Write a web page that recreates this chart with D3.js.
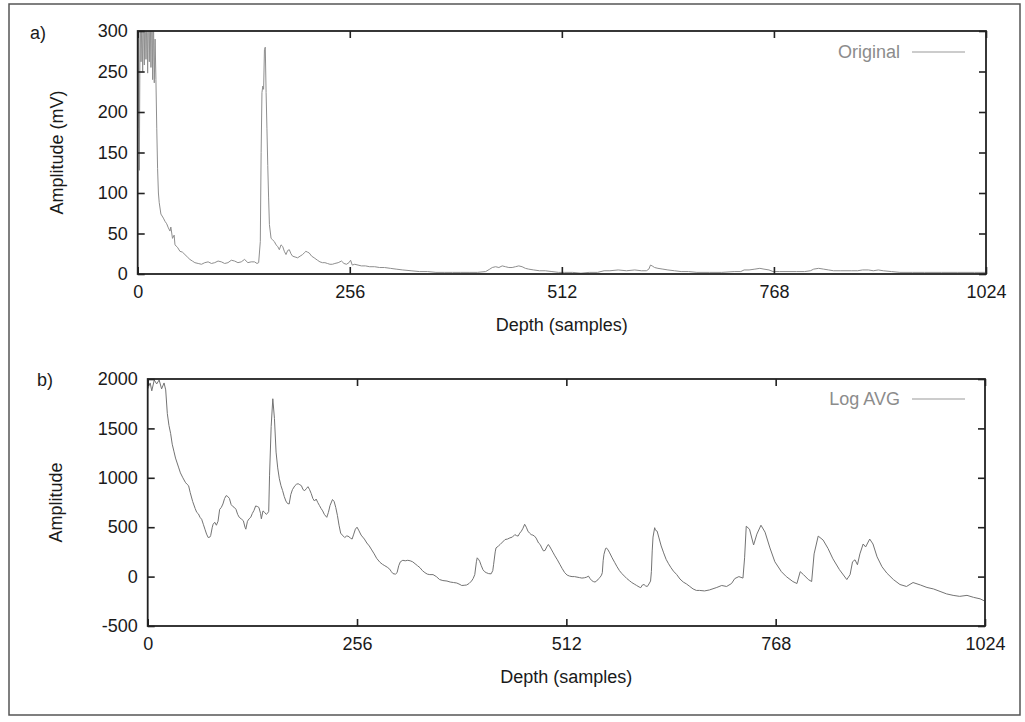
<!DOCTYPE html>
<html>
<head>
<meta charset="utf-8">
<script src="https://cdn.jsdelivr.net/npm/d3@7"></script>
<style>
  html, body { margin: 0; padding: 0; background: #fff; }
  svg { display: block; }
  text { font-family: "Liberation Sans", Arial, Helvetica, sans-serif; }
</style>
</head>
<body>
<svg id="chart" width="1025" height="722"></svg>
<script>
// ---------------- data ----------------
const xTicks = [0, 256, 512, 768, 1024];
const yTicksA = [0, 50, 100, 150, 200, 250, 300];
const yTicksB = [-500, 0, 500, 1000, 1500, 2000];
const panelLabels = ["a)", "b)"];
const seriesNames = ["Original", "Log AVG"];
const xTitle = "Depth (samples)";
const yTitles = ["Amplitude (mV)", "Amplitude"];

const originalDepth = [0,1,2,3,4,5,6,7,8,9,10,11,12,13,14,15,16,17,18,19,20,21,22,23,24,25,26,28,31,33,35,37,39,40,42,44,45,48,51,54,57,60,63,66,69,73,77,81,85,89,93,97,101,105,109,113,117,121,125,129,133,137,141,144,146,148,149,150,151,152,153,154,155,156,157,158,159,161,163,165,167,169,171,173,175,177,179,181,183,185,187,190,193,196,199,201,203,205,207,210,213,217,220,223,226,229,232,235,238,242,246,249,252,255,257,259,262,266,270,275,280,286,292,298,305,312,320,330,340,350,360,370,380,390,400,410,420,425,428,432,436,440,444,448,452,456,460,464,468,472,478,485,492,500,508,515,525,535,545,555,563,570,580,590,600,608,614,617,619,621,624,628,634,640,648,656,665,675,690,705,720,728,732,738,745,751,756,762,767,775,785,795,805,812,816,822,828,834,840,848,855,862,869,875,882,888,894,900,910,920,935,950,970,990,1010,1023];
const originalAmp = [180,320,128,340,262,315,250,335,258,350,265,325,248,345,262,330,255,360,240,320,236,290,240,180,130,100,88,74,69,65,62,57,53,58,44,48,36,33,28,27,24,21,18,16,14,13,12,14,15,13,14,16,15,13,14,17,16,14,15,18,14,15,15,13,14,40,150,224,232,228,277,280,224,180,134,95,61,44,42,40,36,34,30,36,34,28,24,29,30,25,22,21,20,22,24,26,28,27,26,22,20,17,15,14,14,13,12,12,13,14,16,13,12,14,17,11,12,11,10,10,9,9,8,8,7,6,5,4,3,3,2,2,2,2,2,2,3,6,8,9,8,10,9,8,8,9,10,9,7,6,5,4,4,3,2,2,2,1,2,2,4,4,5,4,5,4,4,6,11,10,8,7,6,5,4,3,3,2,2,2,3,3,5,5,6,7,6,5,3,3,3,3,3,4,6,7,6,5,4,4,4,4,4,5,5,4,5,4,3,2,2,2,2,2,2,2];

const logDepth = [0,3,5,8,11,14,17,20,22,24,26,28,30,32,34,36,38,40,43,46,48,50,52,55,58,60,62,64,66,68,70,72,74,76,77,79,80,82,84,86,88,90,92,94,96,98,100,102,104,106,108,110,112,115,117,119,120,122,124,126,128,130,132,134,136,138,139,141,143,145,147,148,149,151,153,155,157,159,161,163,165,167,169,171,173,175,177,180,182,184,186,188,190,192,194,196,198,200,202,204,206,208,210,212,214,216,219,221,223,226,228,230,232,234,236,238,241,243,245,248,250,252,254,256,258,261,263,265,268,271,274,277,280,284,287,290,293,296,298,300,303,305,307,309,312,315,318,321,324,327,330,333,336,339,342,345,349,353,357,361,366,370,374,378,382,384,387,390,393,396,398,400,402,403,405,406,408,410,412,414,417,420,422,423,425,426,429,431,434,437,440,443,446,449,451,453,455,457,459,461,463,465,467,469,471,473,475,478,480,482,484,486,488,490,492,494,496,498,501,504,507,510,513,516,519,522,525,528,531,534,537,539,541,543,545,547,549,551,553,555,556,557,558,560,561,563,565,568,571,574,577,580,583,586,589,592,595,598,601,603,605,607,609,611,613,615,616,617,618,620,621,623,625,628,631,634,637,640,643,647,651,655,659,663,667,671,675,681,687,696,702,708,714,718,723,728,730,732,736,741,745,750,755,761,767,775,781,789,794,798,802,808,812,815,820,826,832,838,846,855,859,862,865,868,871,875,878,883,887,892,898,904,912,920,928,936,945,953,961,969,977,985,993,1002,1010,1018,1023];
const logAmp = [1900,1960,1880,1990,1950,1990,1900,1960,1890,1650,1530,1450,1340,1270,1200,1150,1100,1050,1000,955,935,920,850,760,690,650,635,600,580,530,480,430,395,400,415,500,530,550,520,560,680,700,735,790,820,810,790,730,710,700,680,630,600,580,565,500,480,560,585,600,640,670,715,710,700,640,585,665,650,630,645,660,1020,1520,1800,1600,1260,1100,990,920,870,810,765,740,735,830,880,920,935,940,930,920,880,870,890,910,880,840,790,765,785,750,720,690,665,630,600,650,720,780,760,700,620,520,440,420,395,410,410,390,380,430,480,500,470,420,400,380,340,310,270,230,185,145,125,110,95,75,50,30,25,40,110,150,165,160,165,160,150,130,110,90,60,40,25,20,20,0,-30,-40,-45,-55,-60,-65,-80,-90,-88,-85,-70,-45,-20,20,150,190,170,155,110,70,50,40,30,28,60,120,250,290,310,325,350,375,380,392,400,425,415,410,440,460,490,530,500,460,440,425,420,410,390,340,325,290,260,265,300,325,300,270,240,210,170,125,80,40,15,5,0,0,-5,-10,-15,-12,-5,5,-20,-40,-50,-55,-45,-25,-10,15,40,160,225,285,290,270,240,190,145,100,60,30,5,-20,-40,-60,-75,-90,-105,-112,-85,-80,-95,-100,-75,-45,50,260,400,495,470,460,400,310,240,175,130,90,55,20,-25,-55,-75,-100,-125,-140,-140,-145,-135,-110,-90,-100,-70,-20,0,-15,190,510,480,320,430,520,450,290,150,50,0,-50,-70,50,20,-30,-50,230,410,370,285,180,70,-30,20,150,170,120,230,330,300,380,330,200,100,35,-30,-80,-100,-60,-85,-110,-125,-150,-175,-190,-200,-190,-210,-225,-245];

// ---------------- layout ----------------
const svg = d3.select("#chart");
const FS = 18;
const fmt = d => String(d); // plain hyphen-minus as in the reference

svg.append("rect").attr("x", 0).attr("y", 0).attr("width", 1025).attr("height", 722).attr("fill", "#fff");
svg.append("rect")
  .attr("x", 9).attr("y", 4).attr("width", 1011).attr("height", 711)
  .attr("fill", "none").attr("stroke", "#555").attr("stroke-width", 1.5);

const panels = [
  { left: 137.7, right: 986, top: 31, bottom: 274, domainY: [0, 300], ticksY: yTicksA,
    xs: originalDepth, ys: originalAmp, label: panelLabels[0], labelX: 38, labelY: 39,
    name: seriesNames[0], yTitle: yTitles[0], yTitleX: 57, legendY: 52, lineColor: "#8e8e8e", lineW: 1 },
  { left: 147.7, right: 985, top: 379, bottom: 626, domainY: [-500, 2000], ticksY: yTicksB,
    xs: logDepth, ys: logAmp, label: panelLabels[1], labelX: 45, labelY: 386,
    name: seriesNames[1], yTitle: yTitles[1], yTitleX: 56, legendY: 399, lineColor: "#737373", lineW: 1 }
];

panels.forEach((p, i) => {
  const x = d3.scaleLinear().domain([0, 1024]).range([p.left, p.right]);
  const y = d3.scaleLinear().domain(p.domainY).range([p.bottom, p.top]);
  const g = svg.append("g");

  const clipId = "clip" + i;
  svg.append("defs").append("clipPath").attr("id", clipId)
    .append("rect").attr("x", p.left).attr("y", p.top)
    .attr("width", p.right - p.left).attr("height", p.bottom - p.top);

  const pts = p.xs.map((d, k) => [d, p.ys[k]]);
  const line = d3.line().x(d => x(d[0])).y(d => y(d[1]));
  g.append("path").datum(pts)
    .attr("clip-path", `url(#${clipId})`)
    .attr("d", line)
    .attr("fill", "none")
    .attr("stroke", p.lineColor)
    .attr("stroke-width", p.lineW)
    .attr("stroke-linejoin", "round");

  const styleAxis = sel => {
    sel.select(".domain").remove();
    sel.selectAll(".tick line").attr("stroke", "#222").attr("stroke-width", 1.6);
    sel.selectAll("text").attr("fill", "#1a1a1a").style("font-size", FS + "px")
      .style("font-family", '"Liberation Sans", Arial, sans-serif');
  };

  g.append("g").attr("transform", `translate(0,${p.bottom})`)
    .call(d3.axisBottom(x).tickValues(xTicks).tickSize(-7).tickPadding(11).tickFormat(fmt))
    .call(styleAxis);
  g.append("g").attr("transform", `translate(0,${p.top})`)
    .call(d3.axisTop(x).tickValues(xTicks).tickSize(-7).tickFormat(""))
    .call(styleAxis);
  g.append("g").attr("transform", `translate(${p.left},0)`)
    .call(d3.axisLeft(y).tickValues(p.ticksY).tickSize(-7).tickPadding(10).tickFormat(fmt))
    .call(styleAxis);
  g.append("g").attr("transform", `translate(${p.right},0)`)
    .call(d3.axisRight(y).tickValues(p.ticksY).tickSize(-7).tickFormat(""))
    .call(styleAxis);

  g.append("rect").attr("x", p.left).attr("y", p.top)
    .attr("width", p.right - p.left).attr("height", p.bottom - p.top)
    .attr("fill", "none").attr("stroke", "#222").attr("stroke-width", 1.8);

  g.append("text").attr("x", (p.left + p.right) / 2).attr("y", p.bottom + 57)
    .attr("text-anchor", "middle").attr("fill", "#1a1a1a").style("font-size", FS + "px")
    .text(xTitle);
  g.append("text")
    .attr("transform", `translate(${p.yTitleX + 6},${(p.top + p.bottom) / 2}) rotate(-90)`)
    .attr("text-anchor", "middle").attr("fill", "#1a1a1a").style("font-size", FS + "px")
    .text(p.yTitle);
  g.append("text").attr("x", p.labelX).attr("y", p.labelY)
    .attr("text-anchor", "middle").attr("fill", "#1a1a1a").style("font-size", FS + "px")
    .text(p.label);

  g.append("text").attr("x", 900).attr("y", p.legendY + 6)
    .attr("text-anchor", "end").attr("fill", "#8c8c8c").style("font-size", FS + "px")
    .text(p.name);
  g.append("line").attr("x1", 912).attr("x2", 965)
    .attr("y1", p.legendY).attr("y2", p.legendY)
    .attr("stroke", "#9a9a9a").attr("stroke-width", 1.2);
});
</script>
</body>
</html>
